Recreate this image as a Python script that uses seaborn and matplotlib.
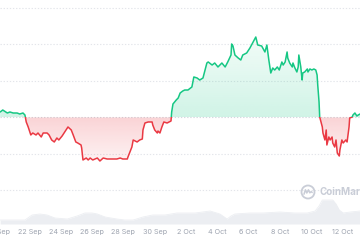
import numpy as np
import pandas as pd
import matplotlib
matplotlib.use('Agg')
import matplotlib.pyplot as plt
import matplotlib.dates as mdates
from matplotlib.patches import Rectangle, Circle
from matplotlib.path import Path
from matplotlib.lines import Line2D
from matplotlib.transforms import IdentityTransform
from matplotlib.colors import to_rgb
import seaborn as sns

sns.set_theme(style='white')
plt.rcParams['font.family'] = ['Inter', 'DejaVu Sans']

# ---------------- data ----------------
start = pd.Timestamp('2024-09-20 00:00')

price_hours = [3, 7, 14, 18, 23, 29, 33, 38, 41, 43, 46, 50, 53, 58, 61, 66, 69, 75, 78, 82,
               86, 90, 93, 98, 102, 107, 112, 115, 119, 122, 127, 128, 130, 135, 138, 141, 145, 152, 156, 161,
               167, 171, 176, 182, 187, 191, 198, 199, 202, 205, 207, 213, 217, 221, 222, 225, 230, 236, 237, 240,
               244, 245, 248, 251, 254, 259, 262, 265, 266, 268, 273, 276, 279, 283, 286, 291, 297, 300, 305, 309,
               314, 320, 322, 328, 332, 337, 343, 348, 352, 357, 358, 360, 363, 368, 372, 375, 381, 386, 391, 395,
               398, 404, 409, 412, 415, 418, 421, 424, 428, 431, 435, 437, 440, 443, 444, 447, 451, 452, 455, 458,
               460, 461, 464, 466, 467, 470, 474, 475, 478, 481, 484, 487, 489, 490, 492, 493, 497, 498, 501, 503,
               504, 507, 509, 512, 513, 516, 518, 520, 523, 524, 527, 529, 533, 535, 538, 539, 543, 544, 547, 550,
               552, 555]
price_values = [3.151, 3.205, 3.123, 3.151, 3.123, 3.123, 3.096, 3.123, 3.068, 2.877, 2.740, 2.521, 2.575, 2.521, 2.575, 2.466, 2.575, 2.575, 2.521, 2.384,
                2.329, 2.438, 2.384, 2.493, 2.603, 2.740, 2.658, 2.521, 2.329, 2.301, 2.247, 2.164, 1.836, 1.890, 1.836, 1.890, 1.836, 1.890, 1.808, 1.890,
                1.863, 1.863, 1.863, 1.863, 1.890, 1.863, 1.863, 1.918, 2.055, 2.192, 2.384, 2.329, 2.384, 2.411, 2.658, 2.849, 2.877, 2.877, 2.795, 2.658,
                2.575, 2.630, 2.575, 2.740, 2.877, 2.849, 2.877, 2.904, 3.151, 3.370, 3.479, 3.534, 3.671, 3.726, 3.753, 3.753, 3.836, 4.110, 4.082, 4.027,
                4.082, 4.493, 4.521, 4.438, 4.493, 4.384, 4.493, 4.384, 4.521, 4.712, 5.014, 4.959, 4.712, 4.630, 4.575, 4.712, 4.767, 4.904, 5.068, 5.205,
                4.986, 4.959, 4.795, 4.986, 4.575, 4.219, 4.356, 4.301, 4.384, 4.301, 4.521, 4.438, 4.521, 4.795, 4.630, 4.493, 4.384, 4.493, 4.356, 4.247,
                4.384, 4.712, 4.384, 4.027, 4.219, 4.247, 4.329, 4.247, 4.329, 4.301, 4.329, 4.301, 4.164, 3.890, 3.425, 3.014, 2.740, 2.575, 2.384, 2.658,
                2.247, 2.466, 2.384, 2.466, 2.301, 2.192, 2.384, 2.027, 1.945, 2.110, 2.384, 2.301, 2.384, 2.329, 2.740, 2.986, 3.014, 3.068, 3.123, 3.041,
                3.068, 3.096]
baseline_price = 3.0

volume_hours = [3, 41, 52, 64, 75, 87, 106, 121, 133, 144, 152, 164, 182, 194, 207, 222, 237, 256, 274, 302,
                325, 340, 351, 357, 363, 386, 406, 432, 455, 474, 486, 492, 497, 513, 518, 523, 529, 540, 555]
volume_values = [8, 8, 18, 20, 18, 12, 10, 16, 22, 22, 20, 14, 10, 8, 8, 14, 18, 18, 22, 22,
                 26, 20, 10, 16, 20, 22, 22, 24, 22, 22, 26, 36, 48, 48, 40, 28, 22, 24, 26]

tick_dates = ['2024-09-20', '2024-09-22', '2024-09-24', '2024-09-26', '2024-09-28', '2024-09-30',
              '2024-10-02', '2024-10-04', '2024-10-06', '2024-10-08', '2024-10-10', '2024-10-12']
tick_labels = ['20 Sep', '22 Sep', '24 Sep', '26 Sep', '28 Sep', '30 Sep',
               '2 Oct', '4 Oct', '6 Oct', '8 Oct', '10 Oct', '12 Oct']

# ---------------- styling ----------------
GREEN = '#16c784'
RED = '#ea3943'
GRID = '#e3e5ea'
TXT = '#9ea4b0'
VOL = '#eceef2'
WM = '#c9cdd7'

df = pd.DataFrame({'time': start + pd.to_timedelta(price_hours, unit='h'),
                   'price': price_values})
vdf = pd.DataFrame({'time': start + pd.to_timedelta(volume_hours, unit='h'),
                    'volume': volume_values})

fig = plt.figure(figsize=(3.6, 2.4), dpi=100)
fig.patch.set_facecolor('white')
ax = fig.add_axes([0, 1 - 224 / 240, 1, 224 / 240])
axv = ax.twinx()
ax.set_zorder(axv.get_zorder() + 1)
ax.patch.set_visible(False)

x0 = mdates.date2num(start + pd.Timedelta(hours=2.76))
x1 = mdates.date2num(start + pd.Timedelta(hours=554.8))
y0, y1 = 0.082, 6.219

# volume
tv = mdates.date2num(vdf['time'])
sns.lineplot(data=vdf, x='time', y='volume', ax=axv, color=VOL, lw=0.6)
axv.fill_between(tv, vdf['volume'].values, 0, color=VOL, lw=0)
axv.set_ylim(0, 448)
axv.set_xlim(x0, x1)
axv.axis('off')

# grid lines
for g in [1, 2, 4, 5, 6]:
    ax.axhline(g, color=GRID, lw=0.8, ls=(0, (1.2, 1.6)), zorder=0)
ax.axhline(baseline_price, color='#d5d8de', lw=0.8, ls=(0, (1.2, 1.6)), zorder=0)

# gradient fills
t = mdates.date2num(df['time'])
p = np.array(price_values)

def grad_fill(where, color, a_base, a_far, far):
    poly = ax.fill_between(t, p, baseline_price, where=where, interpolate=True,
                           facecolor='none', edgecolor='none')
    path = Path.make_compound_path(*poly.get_paths())
    g = np.zeros((256, 1, 4))
    g[..., :3] = to_rgb(color)
    lo, hi = sorted([baseline_price, far])
    # row 0 at top (hi)
    if far > baseline_price:
        g[:, 0, 3] = np.linspace(a_far, a_base, 256)
    else:
        g[:, 0, 3] = np.linspace(a_base, a_far, 256)
    im = ax.imshow(g, extent=[x0, x1, lo, hi], aspect='auto', origin='upper',
                   zorder=1, interpolation='bilinear')
    im.set_clip_path(path, ax.transData)

grad_fill(p >= baseline_price, GREEN, 0.20, 0.05, 5.3)
grad_fill(p <= baseline_price, RED, 0.22, 0.06, 1.75)

# price lines (green above baseline, red below)
sns.lineplot(data=df, x='time', y='price', ax=ax, color=GREEN, lw=1.1, zorder=3)
lg = ax.lines[-1]
sns.lineplot(data=df, x='time', y='price', ax=ax, color=RED, lw=1.1, zorder=3)
lr = ax.lines[-1]
lg.set_clip_path(Rectangle((x0 - 10, baseline_price), x1 - x0 + 20, 20, transform=ax.transData))
lr.set_clip_path(Rectangle((x0 - 10, baseline_price - 20), x1 - x0 + 20, 20, transform=ax.transData))

ax.set_xlim(x0, x1)
ax.set_ylim(y0, y1)
ax.set_xlabel('')
ax.set_ylabel('')
ax.set_yticks([])
tick_nums = mdates.date2num(pd.to_datetime(tick_dates))
ax.set_xticks(tick_nums[1:])
ax.set_xticklabels(tick_labels[1:])
ax.tick_params(axis='x', length=0, pad=3.6, labelsize=5.2, labelcolor=TXT)
ax.annotate(tick_labels[0], xy=(tick_nums[0], 0), xycoords=('data', 'axes fraction'),
            xytext=(0, -3.6), textcoords='offset points', ha='center', va='top',
            fontsize=5.2, color=TXT, annotation_clip=False)
for s in ax.spines.values():
    s.set_visible(False)

# watermark
tr = IdentityTransform()
fig.patches.append(Circle((308, 48), 6.5, transform=tr, fill=False, ec=WM, lw=1.3))
m_path = [(-4, -2.2), (-2.6, 2.2), (-1.2, -1.0), (0.4, 2.2), (1.8, -0.8), (3.2, 0.4), (4.2, -0.5)]
fig.lines.append(Line2D([308 + a for a, b in m_path], [48 + b for a, b in m_path],
                        transform=tr, color=WM, lw=1.1))
fig.text(320 / 360, 48 / 240, 'CoinMarketCap', fontsize=7, fontweight='bold',
         color=WM, ha='left', va='center')

fig.savefig('out.png', dpi=100, facecolor='white')
